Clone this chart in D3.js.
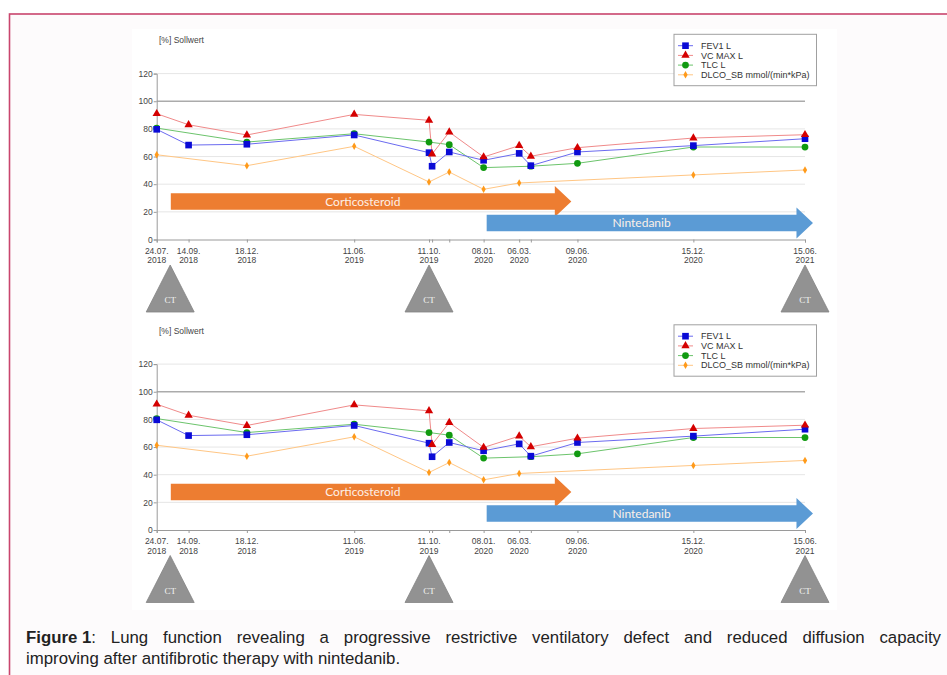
<!DOCTYPE html>
<html>
<head>
<meta charset="utf-8">
<script src="https://cdn.jsdelivr.net/npm/d3@7"></script>
<style>
  html, body { margin: 0; padding: 0; background: #fff; }
  svg { display: block; }
</style>
</head>
<body>
<svg id="fig" width="947" height="675"></svg>
<script>
// measurement dates
var dates = [ '24.07.2018', '14.09.2018', '18.12.2018', '11.06.2019', '11.10.2019', '16.10.2019',
              '13.11.2019', '08.01.2020', '06.03.2020', '25.03.2020', '09.06.2020', '15.12.2020', '15.06.2021' ];

// dates that carry a label under the axis
var labelDates = [ '24.07.2018', '14.09.2018', '18.12.2018', '11.06.2019', '11.10.2019',
                   '08.01.2020', '06.03.2020', '09.06.2020', '15.12.2020', '15.06.2021' ];

// series, % of predicted (null = not measured)
var fev1  = [ 79.7, 68.3, 68.9, 75.6, 62.8, 53.0, 63.3, 57.3, 62.3, 53.4, 63.3, 67.9, 72.9 ];
var vcmax = [ 91.0, 83.0, 75.6, 90.5, 86.2, 61.8, 77.7, 59.7, 67.9, 60.2, 66.4, 73.4, 75.8 ];
var tlc   = [ 80.6, null, 70.5, 76.5, 70.5, null, 68.6, 52.0, null, 53.0, 55.1, 66.9, 66.9 ];
var dlco  = [ 61.3, null, 53.4, 67.4, 41.6, null, 48.8, 36.3, 40.9, null, null, 46.7, 50.3 ];

var seriesNames = [ 'FEV1 L', 'VC MAX L', 'TLC L', 'DLCO_SB mmol/(min*kPa)' ];

var yTicks = [ 0, 20, 40, 60, 80, 100, 120 ];

// therapy periods (drawn as arrows) and CT dates
var therapyNames  = [ 'Corticosteroid', 'Nintedanib' ];
var therapyStart  = [ '16.08.2018', '13.01.2020' ];
var therapyEnd    = [ '30.05.2020', '28.06.2021' ];
var therapyLevel  = [ 27.5, 11.9 ];
var ctDates = [ '15.08.2018', '11.10.2019', '15.06.2021' ];

var parse = d3.timeParse( '%d.%m.%Y' );

var lineColors   = [ '#6b6bf0', '#f08a8a', '#6cc46c', '#ffc684' ];
var markerColors = [ '#0a0ad6', '#d40000', '#109a10', '#ff9a1a' ];
var arrowColors  = [ '#ed7d31', '#5b9bd5' ];

var svg = d3.select( '#fig' );

// page frame
svg.append( 'rect' )
   .attr( 'x', 9.5 ).attr( 'y', 14 )
   .attr( 'width', 960 ).attr( 'height', 700 )
   .attr( 'fill', '#fdfbfc' )
   .attr( 'stroke', '#c9456d' )
   .attr( 'stroke-width', 1.6 );

svg.append( 'rect' )
   .attr( 'x', 132 ).attr( 'y', 29 )
   .attr( 'width', 705 ).attr( 'height', 581 )
   .attr( 'fill', '#fff' );

var xScale = d3.scaleTime()
               .domain( [ parse( dates[ 0 ] ), parse( dates[ dates.length - 1 ] ) ] )
               .range( [ 156.7, 805 ] );

var yScale = d3.scaleLinear()
               .domain( [ 0, 120 ] )
               .range( [ 239.5, 73.6 ] );

var allSeries = [ fev1, vcmax, tlc, dlco ];

function drawChart( offset ) {
	var g = svg.append( 'g' )
	           .attr( 'transform', 'translate(0,' + offset + ')' )
	           .style( 'font-family', '"Liberation Sans", Arial, sans-serif' );

	var x0 = xScale.range()[ 0 ], x1 = xScale.range()[ 1 ];

	// grid
	g.selectAll( '.grid' )
	 .data( yTicks.slice( 1 ) )
	 .enter()
	 .append( 'line' )
	   .attr( 'x1', x0 ).attr( 'x2', x1 )
	   .attr( 'y1', function( d ) { return yScale( d ); } )
	   .attr( 'y2', function( d ) { return yScale( d ); } )
	   .attr( 'stroke', function( d ) { return d === 100 ? '#ababab' : '#e6e6e6'; } )
	   .attr( 'stroke-width', function( d ) { return d === 100 ? 1.6 : 1; } );

	// y axis
	var yAxis = d3.axisLeft( yScale ).tickValues( yTicks ).tickSize( 3 ).tickPadding( 1 );
	var ya = g.append( 'g' )
	          .attr( 'transform', 'translate(' + x0 + ',0)' )
	          .call( yAxis );
	ya.select( '.domain' ).attr( 'stroke', '#9a9a9a' );
	ya.selectAll( '.tick line' ).attr( 'stroke', '#9a9a9a' );
	ya.selectAll( 'text' ).attr( 'fill', '#444' ).style( 'font-size', '8.5px' )
	  .style( 'font-family', '"Liberation Sans", Arial, sans-serif' );

	// x axis, ticks at every measurement
	var xAxis = d3.axisBottom( xScale )
	              .tickValues( dates.map( parse ) )
	              .tickSize( 3 )
	              .tickFormat( '' );
	var xa = g.append( 'g' )
	          .attr( 'transform', 'translate(0,' + yScale( 0 ) + ')' )
	          .call( xAxis );
	xa.select( '.domain' ).attr( 'stroke', '#9a9a9a' );
	xa.selectAll( '.tick line' ).attr( 'stroke', '#9a9a9a' );

	var fmtDay = d3.timeFormat( '%d.%m.' ), fmtYear = d3.timeFormat( '%Y' );
	var lab = g.selectAll( '.xlab' )
	           .data( labelDates.map( parse ) )
	           .enter()
	           .append( 'text' )
	             .attr( 'x', function( d ) { return xScale( d ); } )
	             .attr( 'y', yScale( 0 ) + 14 )
	             .attr( 'text-anchor', 'middle' )
	             .attr( 'fill', '#444' )
	             .style( 'font-size', '8.5px' );
	lab.append( 'tspan' ).text( function( d ) { return fmtDay( d ); } );
	lab.append( 'tspan' )
	   .attr( 'x', function( d ) { return xScale( d ); } )
	   .attr( 'dy', 9.6 )
	   .text( function( d ) { return fmtYear( d ); } );

	g.append( 'text' )
	 .attr( 'x', 159 ).attr( 'y', 43 )
	 .attr( 'fill', '#444' )
	 .style( 'font-size', '8.5px' )
	 .text( '[%] Sollwert' );

	// therapy arrows
	therapyNames.forEach( function( name, i ) {
		var xs = xScale( parse( therapyStart[ i ] ) ),
		    xt = xScale( parse( therapyEnd[ i ] ) ),
		    yc = yScale( therapyLevel[ i ] ),
		    hb = 8.3, hh = 15.5, hl = 16.5,
		    xb = xt - hl;
		var pts = [ [ xs, yc - hb ], [ xb, yc - hb ], [ xb, yc - hh ], [ xt, yc ],
		            [ xb, yc + hh ], [ xb, yc + hb ], [ xs, yc + hb ] ];
		g.append( 'path' )
		 .attr( 'd', 'M' + pts.join( 'L' ) + 'Z' )
		 .attr( 'fill', arrowColors[ i ] );
		g.append( 'text' )
		 .attr( 'x', ( xs + xb ) / 2 )
		 .attr( 'y', yc )
		 .attr( 'dy', '0.35em' )
		 .attr( 'text-anchor', 'middle' )
		 .attr( 'fill', '#fdf0e8' )
		 .style( 'font-family', 'Lato, "Open Sans", sans-serif' )
		 .style( 'font-size', '12px' )
		 .text( name );
	});

	// series lines and markers
	var symbols = [ d3.symbolSquare, d3.symbolTriangle, d3.symbolCircle, d3.symbolDiamond ];
	var sizes   = [ 44, 30, 36, 16 ];
	var order = [ 3, 2, 0, 1 ];
	order.forEach( function( s ) {
		var pts = dates.map( function( d, i ) { return { date: parse( d ), v: allSeries[ s ][ i ] }; } )
		               .filter( function( p ) { return p.v !== null; } );
		var line = d3.line()
		             .x( function( p ) { return xScale( p.date ); } )
		             .y( function( p ) { return yScale( p.v ); } );
		g.append( 'path' )
		 .datum( pts )
		 .attr( 'd', line )
		 .attr( 'fill', 'none' )
		 .attr( 'stroke', lineColors[ s ] )
		 .attr( 'stroke-width', 1 );
	});
	order.forEach( function( s ) {
		var pts = dates.map( function( d, i ) { return { date: parse( d ), v: allSeries[ s ][ i ] }; } )
		               .filter( function( p ) { return p.v !== null; } );
		g.selectAll( null )
		 .data( pts )
		 .enter()
		 .append( 'path' )
		   .attr( 'transform', function( p ) { return 'translate(' + xScale( p.date ) + ',' + yScale( p.v ) + ')'; } )
		   .attr( 'd', d3.symbol().type( symbols[ s ] ).size( sizes[ s ] ) )
		   .attr( 'fill', markerColors[ s ] );
	});

	// legend
	var lg = g.append( 'g' ).attr( 'transform', 'translate(674,34.3)' );
	lg.append( 'rect' )
	  .attr( 'width', 142.5 ).attr( 'height', 51.4 )
	  .attr( 'fill', '#fff' )
	  .attr( 'stroke', '#a0a0a0' );
	seriesNames.forEach( function( name, s ) {
		var ly = 11.4 + s * 9.7;
		lg.append( 'line' )
		  .attr( 'x1', 4 ).attr( 'x2', 19 )
		  .attr( 'y1', ly ).attr( 'y2', ly )
		  .attr( 'stroke', lineColors[ s ] );
		lg.append( 'path' )
		  .attr( 'transform', 'translate(11.5,' + ly + ')' )
		  .attr( 'd', d3.symbol().type( symbols[ s ] ).size( sizes[ s ] ) )
		  .attr( 'fill', markerColors[ s ] );
		lg.append( 'text' )
		  .attr( 'x', 27 ).attr( 'y', ly )
		  .attr( 'dy', '0.35em' )
		  .attr( 'fill', '#333' )
		  .style( 'font-size', '9px' )
		  .text( name );
	});

	// CT markers
	ctDates.forEach( function( d ) {
		var cx = xScale( parse( d ) ), top = yScale( 0 ) + 25.5, bot = top + 47, hw = 24;
		g.append( 'path' )
		 .attr( 'd', 'M' + cx + ',' + top + 'L' + ( cx + hw ) + ',' + bot + 'L' + ( cx - hw ) + ',' + bot + 'Z' )
		 .attr( 'fill', '#929292' )
		 .attr( 'stroke', '#848484' )
		 .attr( 'stroke-width', 0.8 );
		g.append( 'text' )
		 .attr( 'x', cx ).attr( 'y', bot - 9 )
		 .attr( 'text-anchor', 'middle' )
		 .attr( 'fill', '#f4f4f4' )
		 .style( 'font-family', '"Liberation Serif", serif' )
		 .style( 'font-size', '9px' )
		 .text( 'CT' );
	});
}

drawChart( 0 );
drawChart( 290.5 );

// caption, first line justified
var cap = svg.append( 'g' ).style( 'font-family', '"Liberation Sans", Arial, sans-serif' )
             .style( 'font-size', '16.8px' ).attr( 'fill', '#222' );
var words1 = [ 'Lung', 'function', 'revealing', 'a', 'progressive', 'restrictive', 'ventilatory',
               'defect', 'and', 'reduced', 'diffusion', 'capacity' ];
var left = 26, right = 941, base1 = 643, base2 = 664;
var pieces = [];
var head = cap.append( 'text' ).attr( 'y', base1 );
head.append( 'tspan' ).style( 'font-weight', 'bold' ).text( 'Figure 1' );
head.append( 'tspan' ).text( ':' );
pieces.push( head );
words1.forEach( function( w ) { pieces.push( cap.append( 'text' ).attr( 'y', base1 ).text( w ) ); } );
var widths = pieces.map( function( p ) { return p.node().getComputedTextLength(); } );
var gap = ( right - left - d3.sum( widths ) ) / ( pieces.length - 1 );
var cx = left;
pieces.forEach( function( p, i ) { p.attr( 'x', cx ); cx += widths[ i ] + gap; } );
cap.append( 'text' ).attr( 'x', left ).attr( 'y', base2 )
   .text( 'improving after antifibrotic therapy with nintedanib.' );
</script>
</body>
</html>
